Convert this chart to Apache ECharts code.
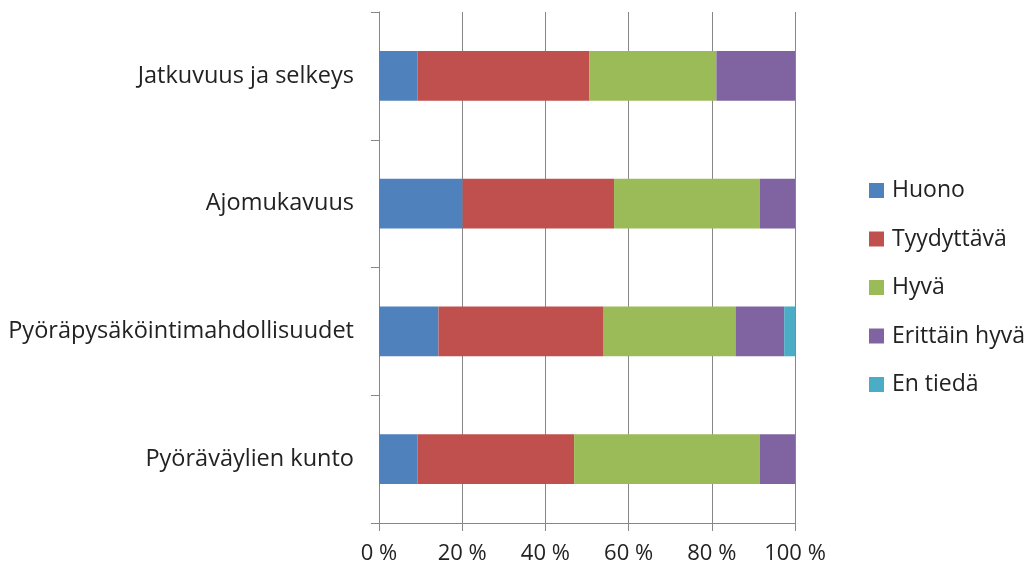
<!DOCTYPE html>
<html>
<head>
<meta charset="utf-8">
<script src="https://cdn.jsdelivr.net/npm/echarts@6/dist/echarts.min.js"></script>
<style>
  html, body { margin: 0; padding: 0; background: #fff; }
  #chart { width: 1030px; height: 568px; }
</style>
</head>
<body>
<div id="chart"></div>
<script>
// kategoriat ylhäältä alas
const categories = [
  "Jatkuvuus ja selkeys",
  "Ajomukavuus",
  "Pyöräpysäköintimahdollisuudet",
  "Pyöräväylien kunto",
];
const seriesNames = ["Huono", "Tyydyttävä", "Hyvä", "Erittäin hyvä", "En tiedä"];
const huono = [9.3, 20.1, 14.3, 9.3];
const tyydyttava = [41.3, 36.4, 39.7, 37.6];
const hyva = [30.5, 35.0, 31.7, 44.6];
const erittainHyva = [18.9, 8.5, 11.7, 8.5];
const enTieda = [0, 0, 2.6, 0];
const xTicks = [0, 20, 40, 60, 80, 100];

const colors = ["#4F81BD", "#C0504D", "#9BBB59", "#8064A2", "#4BACC6"];
const values = [huono, tyydyttava, hyva, erittainHyva, enTieda];
const font = "'Open Sans', Lato, sans-serif";
const axisGrey = "#878787";

const chart = echarts.init(document.getElementById("chart"));
const options = {
  animation: false,
  color: colors,
  textStyle: { fontFamily: font },
  // selite
  legend: {
    orient: "vertical",
    left: 864,
    top: 174,
    icon: "rect",
    itemWidth: 15,
    itemHeight: 15,
    itemGap: 25.5,
    data: seriesNames,
    textStyle: {
      fontFamily: font,
      fontSize: 23,
      lineHeight: 20,
      color: "#222",
      padding: [0, 0, 0, 3],
    },
  },
  grid: {
    left: 379,
    right: 235,
    top: 12,
    bottom: 45,
    containLabel: false,
  },
  xAxis: {
    type: "value",
    min: xTicks[0],
    max: xTicks[xTicks.length - 1],
    interval: xTicks[1] - xTicks[0],
    axisLine: { show: true, lineStyle: { color: axisGrey, width: 1 } },
    axisTick: { show: true, length: 8, lineStyle: { color: axisGrey } },
    splitLine: { show: true, lineStyle: { color: axisGrey, width: 1 } },
    axisLabel: {
      formatter: "{value} %",
      fontFamily: font,
      fontSize: 22,
      color: "#222",
      margin: 20,
    },
  },
  yAxis: {
    type: "category",
    data: categories,
    inverse: true,
    axisLine: { show: true, lineStyle: { color: axisGrey, width: 1 } },
    axisTick: { show: true, length: 8, lineStyle: { color: axisGrey } },
    axisLabel: {
      fontFamily: font,
      fontSize: 23.5,
      color: "#222",
      margin: 25,
    },
  },
  series: seriesNames.map((name, i) => ({
    name: name,
    type: "bar",
    stack: "total",
    barWidth: "39%",
    data: values[i],
    itemStyle: { color: colors[i] },
  })),
};
chart.setOption(options);
</script>
</body>
</html>
